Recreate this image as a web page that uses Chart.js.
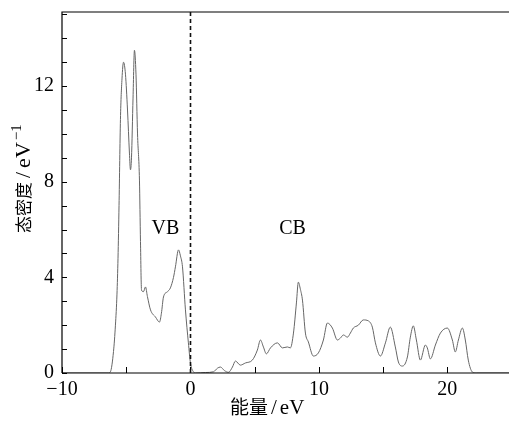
<!DOCTYPE html>
<html>
<head>
<meta charset="utf-8">
<script src="https://cdn.jsdelivr.net/npm/chart.js@4.4.1/dist/chart.umd.min.js"></script>
<style>
  html, body { margin: 0; padding: 0; background: #fff; }
  #c { display: block; }
</style>
</head>
<body>
<canvas id="c" width="509" height="423"></canvas>
<script>
// Energy (eV) and density of states (1/eV)
const energy = [
  -10, -6.5, -6.38, -6.23, -5.99, -5.84, -5.72, -5.64, -5.56, -5.45, -5.33, -5.21, -5.06, -4.90, -4.75, -4.67, -4.59,
  -4.47, -4.36, -4.24, -4.12, -3.97, -3.89, -3.81, -3.66, -3.50, -3.35, -3.11, -2.72, -2.41, -2.26,
  -2.10, -1.79, -1.56, -1.32, -1.17, -0.93, -0.78, -0.62, -0.39, -0.16, 0.0, 0.23, 0.39,
  1.17, 1.79, 2.10, 2.33, 2.65, 2.96, 3.27, 3.50, 3.89, 4.28, 4.82, 5.21, 5.45, 5.68, 5.91,
  6.23, 6.77, 7.16, 7.55, 7.78, 8.02, 8.25, 8.40, 8.56, 8.72, 8.95, 9.18, 9.57, 9.96, 10.35,
  10.66, 11.05, 11.44, 11.67, 11.91, 12.22, 12.45, 12.68, 13.07, 13.46, 13.85, 14.16, 14.40,
  14.79, 15.18, 15.56, 15.95, 16.19, 16.50, 16.89, 17.12, 17.35, 17.59, 17.90, 18.29, 18.44,
  18.68, 19.07, 19.46, 20.00, 20.39, 20.62, 20.86, 21.17, 21.40, 21.63, 21.95, 22.26, 24.8
];
const dos = [
  0, 0, 0, 0.05, 0.9, 2.0, 3.3, 4.8, 7.0, 10.6, 12.3, 13.0, 12.5, 11.0, 9.2, 8.5, 9.0,
  11.5, 13.5, 12.5, 10.0, 8.07, 5.5, 3.47, 3.4, 3.6, 3.2, 2.64, 2.34, 2.13, 2.5,
  3.18, 3.4, 3.56, 4.0, 4.44, 5.15, 4.9, 4.44, 2.64, 1.26, 0.42, 0.05, 0,
  0.02, 0.05, 0.2, 0.25, 0.1, 0.03, 0.25, 0.5, 0.33, 0.42, 0.54, 0.96, 1.38, 1.09, 0.8,
  1.05, 1.26, 1.05, 1.09, 1.05, 1.67, 2.93, 3.8, 3.5, 3.05, 1.67, 1.3, 0.71, 0.84, 1.38,
  2.09, 1.88, 1.38, 1.46, 1.59, 1.5, 1.67, 1.88, 2.0, 2.22, 2.18, 1.92, 1.26,
  0.71, 1.26, 1.92, 1.09, 0.46, 0.29, 0.67, 1.5, 1.97, 1.38, 0.54, 1.17, 1.05,
  0.59, 1.17, 1.67, 1.88, 1.38, 0.88, 1.38, 1.88, 1.38, 0.54, 0.04, 0, 0
];
const xTicks = [-10, -5, 0, 5, 10, 15, 20];
const xTickLabels = [-10, 0, 10, 20];
const yTicks = [0, 1, 2, 3, 4, 5, 6, 7, 8, 9, 10, 11, 12, 13, 14, 15];
const yTickLabels = [0, 4, 8, 12];
const bandLabels = [
  { text: 'VB', x: -1.95, y: 6.05 },
  { text: 'CB', x: 7.95, y: 6.05 }
];
const fermiLevel = 0;

const SERIF = '"Liberation Serif", "Times New Roman", serif';
const CJK = '"Noto Sans CJK SC", sans-serif';

function fmt(v) { return v < 0 ? '\u2212' + Math.abs(v) : String(v); }

// draws text pieces one after another starting at x0 on baseline y0
function drawRun(ctx, parts, x0, y0) {
  let x = x0;
  ctx.textAlign = 'left';
  ctx.textBaseline = 'alphabetic';
  parts.forEach(p => {
    ctx.font = p.font;
    x += (p.gap || 0);
    ctx.fillText(p.t, x, y0 + (p.dy || 0));
    x += ctx.measureText(p.t).width;
  });
}

const decor = {
  id: 'decor',
  afterDraw(chart) {
    const ctx = chart.ctx;
    const a = chart.chartArea;
    const xs = chart.scales.x, ys = chart.scales.y;
    ctx.save();
    // frame
    ctx.strokeStyle = '#000';
    ctx.lineWidth = 1.2;
    ctx.beginPath();
    ctx.moveTo(a.left, a.bottom); ctx.lineTo(a.left, a.top); ctx.lineTo(a.right, a.top);
    ctx.moveTo(a.left, a.bottom); ctx.lineTo(a.right, a.bottom);
    ctx.stroke();
    // inward ticks
    ctx.lineWidth = 1;
    ctx.beginPath();
    xs.ticks.forEach(t => {
      const px = Math.round(xs.getPixelForValue(t.value)) + 0.5;
      ctx.moveTo(px, a.bottom); ctx.lineTo(px, a.bottom - 6);
    });
    ys.ticks.forEach(t => {
      const py = Math.round(ys.getPixelForValue(t.value)) + 0.5;
      ctx.moveTo(a.left, py); ctx.lineTo(a.left + 5, py);
    });
    ctx.stroke();
    // Fermi level dashed line
    const fx = Math.round(xs.getPixelForValue(fermiLevel)) + 0.5;
    ctx.setLineDash([4, 3]);
    ctx.lineWidth = 1.6;
    ctx.strokeStyle = '#111';
    ctx.beginPath();
    ctx.moveTo(fx, a.top); ctx.lineTo(fx, a.bottom);
    ctx.stroke();
    ctx.setLineDash([]);
    // band labels
    ctx.fillStyle = '#000';
    ctx.font = '20px ' + SERIF;
    ctx.textAlign = 'center';
    ctx.textBaseline = 'middle';
    bandLabels.forEach(b => {
      ctx.fillText(b.text, xs.getPixelForValue(b.x), ys.getPixelForValue(b.y));
    });
    // x title
    drawRun(ctx, [
      { t: '能量', font: '19px ' + CJK },
      { t: '/', font: '21px ' + SERIF, gap: 3 },
      { t: 'eV', font: '21px ' + SERIF, gap: 3 }
    ], 230, 414);
    // y title
    ctx.translate(30, 233);
    ctx.rotate(-Math.PI / 2);
    drawRun(ctx, [
      { t: '态密度', font: '17px ' + CJK },
      { t: '/', font: '22px ' + SERIF, gap: 4 },
      { t: 'eV', font: '22px ' + SERIF, gap: 4 },
      { t: '\u22121', font: '15px ' + SERIF, gap: 2, dy: -9 }
    ], 0, 0);
    ctx.restore();
  }
};

new Chart(document.getElementById('c'), {
  type: 'line',
  data: {
    datasets: [{
      data: energy.map((e, i) => ({ x: e, y: dos[i] })),
      borderColor: '#666',
      borderWidth: 1,
      pointRadius: 0,
      fill: false,
      cubicInterpolationMode: 'monotone'
    }]
  },
  options: {
    responsive: false,
    animation: false,
    devicePixelRatio: 1,
    layout: { padding: { top: 12, right: 0, left: 0, bottom: 0 } },
    plugins: { legend: { display: false }, tooltip: { enabled: false } },
    scales: {
      x: {
        type: 'linear',
        min: -10,
        max: 24.8,
        grid: { display: false, drawTicks: false },
        border: { display: false },
        afterBuildTicks: s => { s.ticks = xTicks.map(v => ({ value: v })); },
        afterFit: s => { s.height = 50; s.paddingLeft = 0; s.paddingRight = 0; },
        ticks: {
          autoSkip: false,
          maxRotation: 0,
          padding: 5,
          color: '#000',
          font: { family: SERIF, size: 20 },
          callback: v => xTickLabels.includes(v) ? fmt(v) : ''
        }
      },
      y: {
        min: 0,
        max: 15.1,
        grid: { display: false, drawTicks: false },
        border: { display: false },
        afterBuildTicks: s => { s.ticks = yTicks.map(v => ({ value: v })); },
        afterFit: s => { s.width = 62; s.paddingTop = 0; s.paddingBottom = 0; },
        ticks: {
          autoSkip: false,
          padding: 8,
          color: '#000',
          font: { family: SERIF, size: 20 },
          callback: v => yTickLabels.includes(v) ? fmt(v) : ''
        }
      }
    }
  },
  plugins: [decor]
});
</script>
</body>
</html>
